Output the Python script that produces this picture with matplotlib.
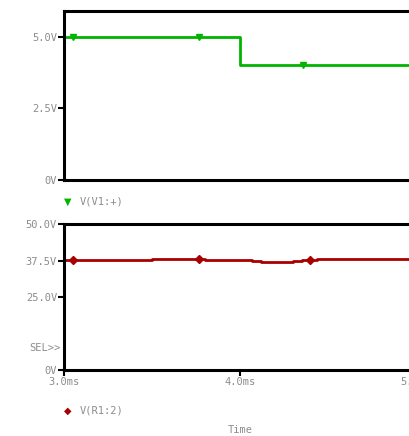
import matplotlib
matplotlib.use('Agg')
import matplotlib.pyplot as plt
import numpy as np

# V(V1:+) step waveform (ms, V)
t_v1 = [3.0, 4.0, 4.0, 5.2]
v_v1 = [5.0, 5.0, 4.0, 4.0]
mk_v1_t = [3.05, 3.77, 4.36]
mk_v1_v = [5.0, 5.0, 4.0]

# V(R1:2) output (ms, V)
t_r1 = [3.0, 3.2, 3.4, 3.5, 3.6, 3.7, 3.8, 3.9, 4.0, 4.07, 4.12, 4.2, 4.3, 4.35, 4.44, 4.5, 4.7, 4.9, 5.2]
v_r1 = [37.8, 37.7, 37.7, 37.9, 38.0, 37.9, 37.8, 37.8, 37.8, 37.3, 36.9, 37.0, 37.3, 37.7, 38.1, 38.1, 38.0, 38.0, 38.0]
mk_r1_t = [3.05, 3.77, 4.4]
mk_r1_v = [37.8, 37.9, 37.6]

green = '#00b400'
red = '#a80000'
grey = '#8c8c8c'
font = dict(family='DejaVu Sans Mono', fontsize=7.5, color=grey)

fig = plt.figure(figsize=(4.10, 4.36), dpi=100)
ax1 = fig.add_axes([0.156, 0.587, 0.92, 0.388])
ax2 = fig.add_axes([0.156, 0.151, 0.92, 0.335])

xmax = 3.0 + 0.92 * 410 / 176.0

ax1.plot(t_v1, v_v1, color=green, lw=2)
ax1.plot(mk_v1_t, mk_v1_v, 'v', color=green, ms=5, ls='none')
ax1.set_ylim(0, 5.9)
ax1.set_yticks([0, 2.5, 5.0])
ax1.set_yticklabels(['0V', '2.5V', '5.0V'], **font)
ax1.set_xticks([])

ax2.plot(t_r1, v_r1, color=red, lw=2, drawstyle='steps-post')
ax2.plot(mk_r1_t, mk_r1_v, 'D', color=red, ms=4, ls='none')
ax2.set_ylim(0, 50)
ax2.set_yticks([0, 25, 37.5, 50])
ax2.set_yticklabels(['0V', '25.0V', '37.5V', '50.0V'], **font)
ax2.set_xticks([3.0, 4.0, 5.0])
ax2.set_xticklabels(['3.0ms', '4.0ms', '5.0ms'], **font)

for ax in (ax1, ax2):
    ax.set_xlim(3.0, xmax)
    for s in ax.spines.values():
        s.set_linewidth(2.2)
        s.set_color('black')
    ax.tick_params(length=4, width=1.5, direction='out', pad=1)

ax2.text(-0.01, 0.15, 'SEL>>', transform=ax2.transAxes, ha='right', va='center', **font)

fig.text(68/410, 1-202/436, '\u25bc', color=green, fontsize=7, ha='center', va='center')
fig.text(80/410, 1-201/436, 'V(V1:+)', ha='left', va='center', **font)
fig.text(68/410, 1-411/436, '\u25c6', color=red, fontsize=7, ha='center', va='center')
fig.text(80/410, 1-410/436, 'V(R1:2)', ha='left', va='center', **font)
fig.text(240/410, 1-430/436, 'Time', ha='center', va='center', **font)

fig.savefig('out.png', dpi=100)
